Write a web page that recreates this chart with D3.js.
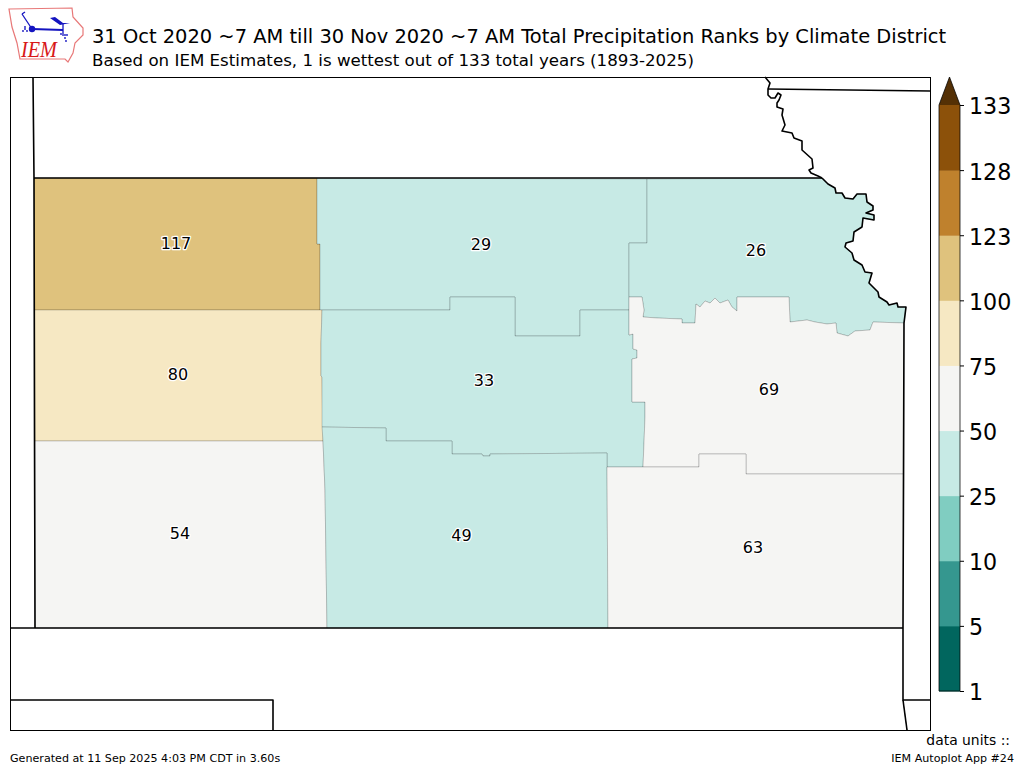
<!DOCTYPE html>
<html>
<head>
<meta charset="utf-8">
<script src="https://cdn.jsdelivr.net/npm/d3@7"></script>
<style>
  html, body { margin: 0; padding: 0; background: #fff; }
  svg { display: block; }
  text { font-family: "DejaVu Sans", sans-serif; fill: #000; }
</style>
</head>
<body>
<div id="chart"></div>
<script>
// Ranks and colour classes
var districtNames = ['NW', 'NC', 'NE', 'WC', 'C', 'EC', 'SW', 'SC', 'SE'];
var districtRanks = [117, 29, 26, 80, 33, 69, 54, 49, 63];
var rankBounds = [1, 5, 10, 25, 50, 75, 100, 123, 128, 133];
var rankColors = ['#01665e', '#35978f', '#80cdc1', '#c7eae5', '#f5f5f3', '#f6e8c3', '#dfc27d', '#bf812d', '#8c510a'];
var overColor = '#543005';

// Label anchors, map grid units (origin = NW corner of the map frame)
var labelX = [166, 471, 746, 168, 474, 759, 170, 451.5, 743];
var labelY = [166.5, 167.5, 173.5, 297.5, 303, 312.5, 456.5, 458, 470];

// Missouri river, shared arcs
var riverNorth = [[755,0],[760,6],[758,12],[758,18],[761,21],[765,21],[768,16],[771,18],[769,23],[767,26],[767,30],[773,32],[772,38],[775,48],[772,54],[782,56],[784,61],[792,64],[792,73],[802,82],[803,91],[799,93],[801,96],[808,99],[812,101]];
var riverKansas = [[812,101],[818,107],[825,111],[826,116],[832,116],[835,121],[843,122],[847,117],[856,117],[857,125],[863,129],[863,133],[856,136],[864,138],[864,143],[853,141],[852,150],[844,155],[843,164],[836,166],[835,170],[842,176],[844,183],[852,188],[855,195],[862,196],[859,206],[868,215],[869,220],[877,225],[879,228],[887,226],[888,230],[896,230],[894,246]];
// NE / EC boundary, east to west
var kawArc = [[894,246],[863,245],[860,253],[845,254],[838,259],[827,256],[826,246],[817,247],[805,245],[797,243],[780,245],[779,220],[727,220],[727,234],[722,230],[718,223],[710,226],[705,221],[700,226],[695,224],[690,230],[686,227],[685,246],[672,246],[672,242],[647,241],[633,240],[634,233],[632,220],[619,220]];

var polyNW = [[24,101],[307,101],[307,167],[310,167],[310,233],[24,233]];
var polyNC = [[307,101],[637,102],[637,166],[619,166],[619,233],[570,233],[570,259],[505,259],[505,220],[440,220],[440,233],[310,233],[310,167],[307,167]];
var polyNE = [[637,102]].concat(riverKansas, kawArc, [[619,166],[637,166]]);
var polyWC = [[24,233],[312,233],[311,266],[311,299],[312,300],[313,364],[24,364]];
var polyC = [[312,233],[440,233],[440,220],[505,220],[505,259],[570,259],[570,233],[619,233],[619,258],[623,257],[623,272],[627,273],[627,281],[622,282],[622,325],[635,325],[635,340],[634,366],[633,390],[597,390],[597,376],[480,377],[480,379],[473,379],[472,377],[442,377],[442,364],[376,364],[376,351],[312,350],[312,300],[311,299],[311,266]];
var polyEC = kawArc.slice().reverse().concat([[894,397],[736,397],[736,377],[689,377],[689,390],[633,390],[634,366],[635,340],[635,325],[622,325],[622,282],[627,281],[627,273],[623,272],[623,257],[619,258]]);
var polySW = [[24,364],[313,364],[315,413],[317,551],[25,551]];
var polySC = [[312,350],[376,351],[376,364],[442,364],[442,377],[472,377],[473,379],[480,379],[480,377],[597,376],[597,390],[598,551],[317,551],[315,413],[313,364]];
var polySE = [[597,390],[633,390],[689,390],[689,377],[736,377],[736,397],[894,397],[893,551],[598,551]];
var districtPolys = [polyNW, polyNC, polyNE, polyWC, polyC, polyEC, polySW, polySC, polySE];

// State lines
var stateLines = [
    riverNorth,
    riverKansas,
    [[23,0],[24,101],[25,551]],
    [[24,101],[812,101]],
    [[0,551],[893,551]],
    [[894,246],[893,551],[893,623],[920,623]],
    [[893,623],[897,653]],
    [[0,623],[263,623],[263,653]],
    [[758,12],[920,14]]
];

var titleText = '31 Oct 2020 ~7 AM till 30 Nov 2020 ~7 AM Total Precipitation Ranks by Climate District';
var subtitleText = 'Based on IEM Estimates, 1 is wettest out of 133 total years (1893-2025)';
var footerLeft = 'Generated at 11 Sep 2025 4:03 PM CDT in 3.60s';
var footerRight = 'IEM Autoplot App #24';
var unitsText = 'data units ::';

// Logo outline and glyph
var logoOutline = [[9,9],[72,8],[73,17],[83,28],[83,35],[75,43],[73,53],[68,62],[65,59],[20,59],[17,43],[12,27]];
var logoBar = [[32,29],[63,30]];
var logoStaff = [[22,14],[32,29]];
var logoBarb = [[22,14],[25,12]];
var logoPole = [[63,23],[63,36]];
var logoFlag = [[50,18],[55,17],[63,23],[70,23],[60,25]];
var logoDotX = [23, 25, 27, 25, 61, 65, 67, 65, 66];
var logoDotY = [31, 29, 31, 27, 34, 35, 35, 38, 41];

var svg = d3.select('#chart').append('svg').attr('width', 1024).attr('height', 768);

var mapLeft = 10, mapTop = 77, mapW = 920, mapH = 653;
var x = d3.scaleLinear().domain([0, mapW]).range([mapLeft, mapLeft + mapW]);
var y = d3.scaleLinear().domain([0, mapH]).range([mapTop, mapTop + mapH]);
var line = d3.line().x(function(d){ return x(d[0]); }).y(function(d){ return y(d[1]); });
var colorOf = d3.scaleThreshold().domain(rankBounds.slice(1, -1)).range(rankColors);

// Districts
svg.append('g').selectAll('path').data(districtPolys).enter().append('path')
    .attr('d', function(d){ return line(d) + 'Z'; })
    .attr('fill', function(d, i){ return colorOf(districtRanks[i]); })
    .attr('stroke', '#000').attr('stroke-opacity', 0.25).attr('stroke-width', 0.7)
    .attr('stroke-linejoin', 'miter');

// State lines + frame
svg.append('g').selectAll('path').data(stateLines).enter().append('path')
    .attr('d', line).attr('fill', 'none').attr('stroke', '#000').attr('stroke-width', 1.6)
    .attr('stroke-linejoin', 'round');
svg.append('rect').attr('x', x(0) + 0.5).attr('y', y(0) + 0.5).attr('width', mapW).attr('height', mapH)
    .attr('fill', 'none').attr('stroke', '#000').attr('stroke-width', 1);

// Rank labels
svg.append('g').selectAll('text').data(districtRanks).enter().append('text')
    .attr('x', function(d, i){ return x(labelX[i]); })
    .attr('y', function(d, i){ return y(labelY[i]); })
    .attr('text-anchor', 'middle').attr('dominant-baseline', 'central')
    .attr('font-size', 16).attr('stroke', '#fff').attr('stroke-width', 2.5)
    .attr('paint-order', 'stroke').attr('stroke-linejoin', 'round')
    .text(function(d){ return d; });

// Colour bar
var barX = 939, barW = 21, tipY = 77;
var barY = d3.scalePoint().domain(rankBounds).range([691, 105]);
var bar = svg.append('g');
bar.selectAll('rect').data(rankColors).enter().append('rect')
    .attr('x', barX)
    .attr('y', function(d, i){ return barY(rankBounds[i + 1]); })
    .attr('width', barW)
    .attr('height', function(d, i){ return barY(rankBounds[i]) - barY(rankBounds[i + 1]) + 0.5; })
    .attr('fill', function(d){ return d; });
var barTop = barY(133), barBottom = barY(1);
bar.append('path')
    .attr('d', d3.line()([[barX, barTop], [barX + barW / 2, tipY], [barX + barW, barTop]]) + 'Z')
    .attr('fill', overColor);
bar.append('path')
    .attr('d', d3.line()([[barX, barBottom], [barX, barTop], [barX + barW / 2, tipY], [barX + barW, barTop], [barX + barW, barBottom]]) + 'Z')
    .attr('fill', 'none').attr('stroke', '#000').attr('stroke-opacity', 0.75).attr('stroke-width', 1);

var barAxis = d3.axisRight(barY).tickSize(4).tickPadding(5);
var axisG = svg.append('g').attr('transform', 'translate(' + (barX + barW) + ',0)').call(barAxis);
axisG.select('.domain').remove();
axisG.selectAll('line').attr('stroke', '#000');
axisG.selectAll('text').attr('font-size', 22.2).attr('font-family', '"DejaVu Sans", sans-serif').attr('fill', '#000').attr('dy', '0.4em');

// Titles
svg.append('text').attr('x', 92).attr('y', 42.5).attr('font-size', 19.44).text(titleText);
svg.append('text').attr('x', 92).attr('y', 66).attr('font-size', 16.67).text(subtitleText);
svg.append('text').attr('x', 10).attr('y', 762).attr('font-size', 11.12).text(footerLeft);
svg.append('text').attr('x', 1014).attr('y', 762).attr('text-anchor', 'end').attr('font-size', 11.12).text(footerRight);
svg.append('text').attr('x', 1010).attr('y', 745).attr('text-anchor', 'end').attr('font-size', 13.9).text(unitsText);

// Logo
var logo = svg.append('g');
var plain = d3.line();
var logoBlue = '#1414c0';
logo.append('path').attr('d', plain(logoOutline) + 'Z').attr('fill', '#fff').attr('stroke', '#e87878').attr('stroke-width', 1.2);
logo.append('path').attr('d', plain(logoBar)).attr('stroke', logoBlue).attr('stroke-width', 2).attr('fill', 'none');
logo.append('path').attr('d', plain(logoStaff)).attr('stroke', logoBlue).attr('stroke-width', 1.3).attr('fill', 'none');
logo.append('path').attr('d', plain(logoBarb)).attr('stroke', logoBlue).attr('stroke-width', 1.3).attr('fill', 'none');
logo.append('path').attr('d', plain(logoPole)).attr('stroke', logoBlue).attr('stroke-width', 1.3).attr('fill', 'none');
logo.append('path').attr('d', plain(logoFlag) + 'Z').attr('fill', logoBlue);
logo.append('circle').attr('cx', 32).attr('cy', 29).attr('r', 3.2).attr('fill', logoBlue);
logo.append('g').selectAll('circle').data(logoDotX).enter().append('circle')
    .attr('cx', function(d){ return d; })
    .attr('cy', function(d, i){ return logoDotY[i]; })
    .attr('r', 0.9).attr('fill', logoBlue);
logo.append('text').attr('x', 21).attr('y', 57)
    .style('font-family', '"Liberation Serif", serif').style('font-style', 'italic').style('fill', '#d81818')
    .attr('font-size', 23).attr('textLength', 36).attr('lengthAdjust', 'spacingAndGlyphs').text('IEM');
</script>
</body>
</html>
